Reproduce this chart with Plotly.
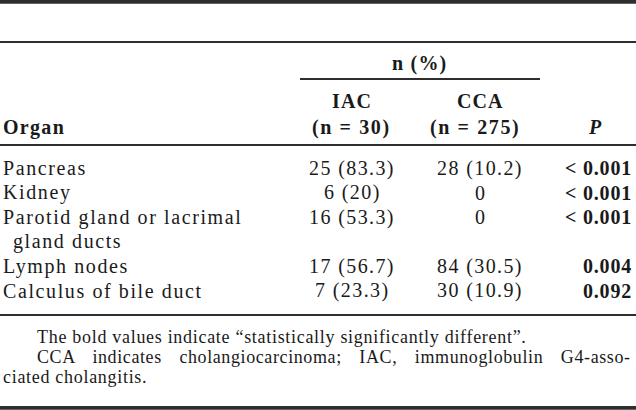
import plotly.graph_objects as go

# ---- data ----
organs = ["Pancreas", "Kidney", "Parotid gland or lacrimal", "Lymph nodes", "Calculus of bile duct"]
organ_wrap = [None, None, "gland ducts", None, None]
iac_n = [25, 6, 16, 17, 7]
iac_pct = ["83.3", "20", "53.3", "56.7", "23.3"]
cca_n = [28, 0, 0, 84, 30]
cca_pct = ["10.2", None, None, "30.5", "10.9"]
p_values = ["< 0.001", "< 0.001", "< 0.001", "0.004", "0.092"]
group_header = "n (%)"
col_headers = ["IAC", "CCA"]
col_ns = [30, 275]
first_col_header = "Organ"
p_header = "P"
footnote1 = "The bold values indicate \u201cstatistically significantly different\u201d."
footnote2_words = ["CCA", "indicates", "cholangiocarcinoma;", "IAC,", "immunoglobulin", "G4-asso-"]
footnote3 = "ciated cholangitis."

W, H = 636, 410
FONT = "Liberation Serif"
TXT = "#1a1a1a"
LINE = "#2e2e2e"

fig = go.Figure()
fig.update_layout(
    width=W, height=H, margin=dict(l=0, r=0, t=0, b=0),
    paper_bgcolor="white", plot_bgcolor="white", showlegend=False,
    xaxis=dict(range=[0, W], visible=False, fixedrange=True),
    yaxis=dict(range=[H, 0], visible=False, fixedrange=True),
)

def ls(text, sp):
    return f'<span style="letter-spacing:{sp}px">{text}</span>'

def ann(text, x, y, size=20, xanchor="center", bold=False, sp=1.3, raw=False):
    t = text if raw else ls(text, sp)
    if bold:
        t = f"<b>{t}</b>"
    fig.add_annotation(x=x, y=y, xref="x", yref="y", text=t, showarrow=False,
                       xanchor=xanchor, yanchor="middle", align=xanchor if xanchor != "center" else "center",
                       borderpad=0, borderwidth=0,
                       font=dict(family=FONT, size=size, color=TXT))

def hline(x0, x1, y, w):
    fig.add_shape(type="line", x0=x0, x1=x1, y0=y, y1=y, xref="x", yref="y",
                  line=dict(color=LINE, width=w))

# rules
hline(0, W, 1.8, 3.8)
hline(0, W, 42, 1.8)
hline(300, 540, 79, 1.8)
hline(0, W, 145, 1.8)
hline(0, W, 315, 1.8)
hline(0, W, 407.8, 3.8)

IAC_X, CCA_X, P_X = 352, 480, 632

# header
ann(group_header, 419, 63, bold=True, sp=1.2)
for hx, nx, h, n in zip([IAC_X, CCA_X], [IAC_X - 1, CCA_X - 5], col_headers, col_ns):
    ann(h, hx, 101, bold=True, sp=1.1)
    ann(f"(n = {n})", nx, 127, bold=True, sp=1.6)
ann(first_col_header, 3, 127, xanchor="left", bold=True, sp=1.3)
ann("<b><i>P</i></b>", 595, 127, raw=True)

# body
Y0, STEP = 168, 24.5
line_idx = 0
for i, org in enumerate(organs):
    y = Y0 + STEP * line_idx
    ann(org, 3, y, xanchor="left", sp=1.6)
    iac_txt = f"{iac_n[i]} ({iac_pct[i]})"
    cca_txt = f"{cca_n[i]} ({cca_pct[i]})" if cca_pct[i] is not None else f"{cca_n[i]}"
    ann(iac_txt, IAC_X, y, sp=1.4)
    ann(cca_txt, CCA_X, y, sp=1.4)
    ann(p_values[i], P_X, y, xanchor="right", bold=True, sp=0.8)
    line_idx += 1
    if organ_wrap[i]:
        ann(organ_wrap[i], 13, Y0 + STEP * line_idx, xanchor="left", sp=1.6)
        line_idx += 1

# footnotes
ann(footnote1, 37, 337, size=18, xanchor="left", sp=0.7)
fn2 = '<span style="letter-spacing:0.6px;word-spacing:12.5px">' + " ".join(footnote2_words) + "</span>"
ann(fn2, 37, 357, size=18, xanchor="left", raw=True)
ann(footnote3, 3, 377, size=18, xanchor="left", sp=0.7)

fig.write_html("out.html", config={"displayModeBar": False, "staticPlot": True},
               post_script="document.body.style.margin='0px';document.body.style.padding='0px';")
